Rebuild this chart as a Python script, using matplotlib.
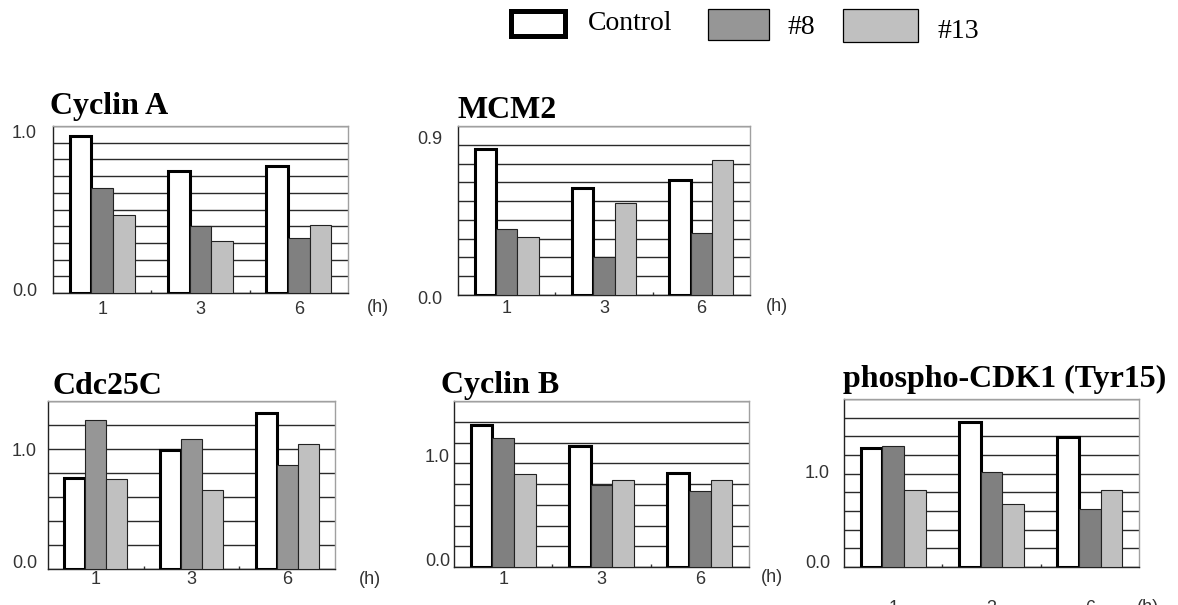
import numpy as np
import matplotlib
matplotlib.use("Agg")
import matplotlib.pyplot as plt
from matplotlib.patches import Rectangle
from matplotlib.ticker import MultipleLocator

# ---------------- data ----------------
time_points = ["1", "3", "6"]
series_names = ["Control", "#8", "#13"]

panel_titles = ["Cyclin A", "MCM2", "Cdc25C", "Cyclin B", "phospho-CDK1 (Tyr15)"]

cyclinA_control = [0.94, 0.73, 0.76]
cyclinA_8 = [0.63, 0.40, 0.33]
cyclinA_13 = [0.47, 0.31, 0.41]

mcm2_control = [0.78, 0.57, 0.61]
mcm2_8 = [0.35, 0.20, 0.33]
mcm2_13 = [0.31, 0.49, 0.72]

cdc25c_control = [0.76, 0.99, 1.30]
cdc25c_8 = [1.24, 1.08, 0.87]
cdc25c_13 = [0.75, 0.66, 1.04]

cyclinB_control = [1.37, 1.17, 0.91]
cyclinB_8 = [1.24, 0.79, 0.73]
cyclinB_13 = [0.90, 0.84, 0.84]

pcdk1_control = [1.28, 1.55, 1.39]
pcdk1_8 = [1.30, 1.02, 0.62]
pcdk1_13 = [0.83, 0.67, 0.83]

y_max = [1.0, 0.9, 1.4, 1.6, 1.8]
grid_step = [0.1, 0.1, 0.2, 0.2, 0.2]
y_tick_values = [[0.0, 1.0], [0.0, 0.9], [0.0, 1.0], [0.0, 1.0], [0.0, 1.0]]
y_tick_labels = [["0.0", "1.0"], ["0.0", "0.9"], ["0.0", "1.0"], ["0.0", "1.0"], ["0.0", "1.0"]]
unit_label = "(h)"

panel_data = [
    (cyclinA_control, cyclinA_8, cyclinA_13),
    (mcm2_control, mcm2_8, mcm2_13),
    (cdc25c_control, cdc25c_8, cdc25c_13),
    (cyclinB_control, cyclinB_8, cyclinB_13),
    (pcdk1_control, pcdk1_8, pcdk1_13),
]

# ---------------- layout / style ----------------
W, H = 1178, 605
fig = plt.figure(figsize=(W / 100, H / 100), dpi=100)
fig.patch.set_facecolor("white")

def px_rect(l, t, r, b):
    return [l / W, 1 - b / H, (r - l) / W, (b - t) / H]

# plot-area boxes in pixels (left, top, right, bottom)
boxes = [
    (53, 126, 348, 293),
    (458, 126, 750, 295),
    (48, 401, 335, 569),
    (454, 401, 749, 567),
    (844, 399, 1139, 567),
]
title_pos = [(50, 114), (457, 118), (52, 394), (441, 393), (843, 387)]
# y label: (pad px from axes left, vertical offset px (up positive) for each label)
ylab_pad = [16, 16, 11, 4, 14]
ylab_dy = [(2, -7), (-5, -14), (6, -3), (5, 6), (4, 0)]
xlab_pad_px = [7.5, 5.5, 2.5, 4.5, 33]
h_offset = [(30, -14), (27, -12), (35, -11), (23, -10), (9, -40)]
c8_colors = ["#808080", "#808080", "#969696", "#808080", "#808080"]
c13_color = "#c0c0c0"

sans = ["Liberation Sans", "DejaVu Sans"]
serif = ["Liberation Serif", "DejaVu Serif"]
tick_color = "#333333"
tick_fs = 13

bar_w = 0.22
x = np.arange(len(time_points))

for i, (box, vals) in enumerate(zip(boxes, panel_data)):
    ax = fig.add_axes(px_rect(*box))
    ctrl, s8, s13 = vals
    ax.set_axisbelow(True)
    ax.bar(x - bar_w, ctrl, width=bar_w, facecolor="white", edgecolor="black",
           linewidth=2.2, zorder=3)
    ax.bar(x, s8, width=bar_w, facecolor=c8_colors[i], edgecolor="#222222",
           linewidth=0.8, zorder=3)
    ax.bar(x + bar_w, s13, width=bar_w, facecolor=c13_color, edgecolor="#222222",
           linewidth=0.8, zorder=3)
    ax.set_xlim(-0.5, len(time_points) - 0.5)
    ax.set_ylim(0, y_max[i])

    # horizontal gridlines
    ax.yaxis.set_major_locator(MultipleLocator(grid_step[i]))
    ax.yaxis.grid(True, color="#2a2a2a", linewidth=1.0)
    ax.tick_params(axis="y", length=0, labelleft=False)

    # category ticks
    ax.set_xticks(x)
    ax.set_xticklabels(time_points, fontsize=tick_fs, color=tick_color, family=sans)
    ax.tick_params(axis="x", which="major", length=0, pad=xlab_pad_px[i] * 0.72)
    ax.set_xticks(x[:-1] + 0.5, minor=True)
    ax.tick_params(axis="x", which="minor", direction="in", length=2.5,
                   width=1, color="#333333")

    for side in ["left", "bottom"]:
        ax.spines[side].set_color("#222222")
        ax.spines[side].set_linewidth(1.0)
    for side in ["top", "right"]:
        ax.spines[side].set_color("#a0a0a0")
        ax.spines[side].set_linewidth(1.0)

    # y value labels
    for v, lab, dy in zip(y_tick_values[i], y_tick_labels[i], ylab_dy[i]):
        ax.annotate(lab, xy=(0, v), xycoords=("axes fraction", "data"),
                    xytext=(-ylab_pad[i], dy), textcoords="offset pixels",
                    ha="right", va="center", fontsize=tick_fs, color=tick_color,
                    family=sans, annotation_clip=False)

    # unit label
    ax.annotate(unit_label, xy=(1, 0), xycoords="axes fraction",
                xytext=h_offset[i], textcoords="offset pixels",
                ha="center", va="center", fontsize=tick_fs, color=tick_color,
                family=sans, annotation_clip=False)

    # panel title
    tx, ty = title_pos[i]
    fig.text(tx / W, 1 - ty / H, panel_titles[i], ha="left", va="baseline",
             fontsize=23, fontweight="bold", family=serif, color="black")

# ---------------- legend ----------------
leg_boxes = [(510.5, 10.5, 564.5, 35.5), (708, 9, 769, 40), (843, 9, 918, 42)]
leg_face = ["white", "#969696", c13_color]
leg_edge_w = [3.6, 0.9, 0.9]
leg_text_pos = [(588, 24), (787, 27), (937, 32)]
for (l, t, r, b), fc, lw, name, (tx, ty) in zip(leg_boxes, leg_face, leg_edge_w,
                                                series_names, leg_text_pos):
    fig.patches.append(Rectangle((l / W, 1 - b / H), (r - l) / W, (b - t) / H,
                                 transform=fig.transFigure, facecolor=fc,
                                 edgecolor="black", linewidth=lw))
    fig.text(tx / W, 1 - ty / H, name, ha="left", va="center", fontsize=20,
             family=serif, color="black")

fig.savefig("out.png", dpi=100, facecolor="white")
